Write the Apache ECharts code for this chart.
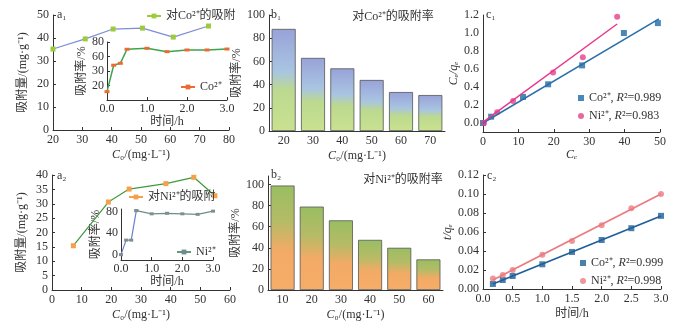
<!DOCTYPE html>
<html><head><meta charset="utf-8">
<script src="https://cdn.jsdelivr.net/npm/echarts@6/dist/echarts.min.js"></script>
<style>html,body{margin:0;padding:0;background:#fff}#c{width:682px;height:327px}</style>
</head><body><div id="c"></div>
<script>
// ---------- data ----------
const a1Conc = [20, 31, 40.5, 50.5, 61, 73];
const a1Qe = [35.2, 39.6, 43.9, 44.3, 40.4, 45.2];
const insetTime = [0, 0.167, 0.333, 0.5, 1, 1.5, 2, 2.5, 3];
const a1InsetRate = [11.5, 48, 50.6, 70, 71.3, 66.7, 69, 69, 70.3];
const a1InsetYLabels = {0: '', 20: '20', 40: '30', 60: '60', 80: '80'};

const a2Conc = [7.2, 19, 26, 38.4, 47.8, 54.9];
const a2Qe = [15.4, 30.6, 35.1, 37.0, 39.2, 32.8];
const a2InsetRate = [0, 27, 27, 82, 76, 77, 76, 75, 81];

const b1Cats = ['20', '30', '40', '50', '60', '70'];
const b1Rate = [88, 63, 54, 44, 33.6, 31];
const b2Cats = ['10', '20', '30', '40', '50', '60'];
const b2Rate = [99, 79, 66, 47.5, 40, 29];

const c1CoCe = [0, 2.3, 11.3, 18.4, 28, 39.8, 49.4];
const c1CoCq = [0, 0.07, 0.29, 0.43, 0.64, 1.0, 1.11];
const c1NiCe = [0.3, 4, 8.5, 19.8, 28.2, 37.9];
const c1NiCq = [0, 0.12, 0.245, 0.56, 0.73, 1.18];
const c1CoFit = [[0, 0], [49.7, 1.156]];
const c1NiFit = [[0, 0.01], [37.9, 1.1]];

const c2Time = [0.167, 0.333, 0.5, 1, 1.5, 2, 2.5, 3];
const c2Co = [0.0053, 0.0095, 0.0137, 0.026, 0.039, 0.0516, 0.064, 0.077];
const c2Ni = [0.011, 0.0147, 0.020, 0.036, 0.0505, 0.067, 0.085, 0.0999];
const c2CoFit = [[0.167, 0.0053], [3, 0.0768]];
const c2NiFit = [[0.167, 0.0095], [3, 0.1]];

// ---------- helpers ----------
const F = '"Liberation Serif","Times New Roman","Noto Sans CJK SC",serif';
const TXT = '#333';
const zip = (a, b) => a.map((v, i) => [v, b[i]]);
const richT = {
  n: {fontFamily: F, fontSize: 12, color: TXT},
  i: {fontFamily: F, fontSize: 12, color: TXT, fontStyle: 'italic'}
};
function axis(type, grid, o) {
  const base = {
    type: type, gridIndex: grid,
    axisLine: {show: true, onZero: false, lineStyle: {color: '#333', width: 1}},
    axisTick: {show: true, inside: true, length: 3, lineStyle: {color: '#333'}},
    axisLabel: {color: TXT, fontFamily: F, fontSize: 12, margin: 4},
    splitLine: {show: false},
    nameLocation: 'middle',
    nameTextStyle: {color: TXT, fontFamily: F, fontSize: 12, rich: richT}
  };
  for (const k in o) {
    if (typeof o[k] === 'object' && !Array.isArray(o[k]) && base[k]) base[k] = Object.assign({}, base[k], o[k]);
    else base[k] = o[k];
  }
  return base;
}
const g = (l, t, w, h) => ({left: l, top: t, width: w, height: h, outerBoundsMode: 'none', containLabel: false});

const legendText = {
  a1main: '对Co²⁺的吸附', a1inset: 'Co²⁺', a2main: '对Ni²⁺的吸附', a2inset: 'Ni²⁺',
  c1Co: '{n|Co²⁺, }{i|R}{n|²=0.989}', c1Ni: '{n|Ni²⁺, }{i|R}{n|²=0.983}',
  c2Co: '{n|Co²⁺, }{i|R}{n|²=0.999}', c2Ni: '{n|Ni²⁺, }{i|R}{n|²=0.998}'
};
function legend(items, left, top, extra) {
  return Object.assign({
    data: items, left: left, top: top, orient: 'vertical', selectedMode: false,
    itemWidth: 14, itemHeight: 6, itemGap: 5, padding: 0,
    formatter: n => legendText[n],
    textStyle: {fontFamily: F, fontSize: 12, color: TXT, rich: richT}
  }, extra || {});
}
const barGrad1 = new echarts.graphic.LinearGradient(0, 0, 0, 1, [
  {offset: 0, color: '#98a2d8'}, {offset: 0.42, color: '#a9c5e2'},
  {offset: 0.6, color: '#bcd98f'}, {offset: 1, color: '#c9e290'}]);
const barGrad2 = new echarts.graphic.LinearGradient(0, 0, 0, 1, [
  {offset: 0, color: '#99be62'}, {offset: 0.35, color: '#b6bb66'},
  {offset: 0.62, color: '#f2aa66'}, {offset: 1, color: '#f6ad68'}]);

const option = {
  backgroundColor: '#fff',
  animation: false,
  grid: [
    g(53, 15, 176, 115),    // 0 a1
    g(107, 42, 120, 58),    // 1 a1 inset
    g(52, 175, 178, 115),   // 2 a2
    g(121, 209, 92, 51),    // 3 a2 inset
    g(269, 15, 176, 116),   // 4 b1
    g(268, 176, 175, 114),  // 5 b2
    g(483, 15, 177, 117),   // 6 c1
    g(483, 175, 178, 114)   // 7 c2
  ],
  xAxis: [
    axis('value', 0, {min: 20, max: 80, interval: 10, name: '{i|C}{n|₀/(mg·L⁻¹)}', nameGap: 19}),
    axis('value', 1, {min: 0, max: 3, interval: 1, name: '时间/h', nameGap: 13,
      axisLabel: {formatter: v => v.toFixed(1), margin: 3}}),
    axis('value', 2, {min: 0, max: 60, interval: 10, name: '{i|C}{n|₀/(mg·L⁻¹)}', nameGap: 19}),
    axis('value', 3, {min: 0, max: 3, interval: 1, name: '时间/h', nameGap: 13,
      axisLabel: {formatter: v => v.toFixed(1), margin: 3}}),
    axis('category', 4, {data: b1Cats, name: '{i|C}{n|₀/(mg·L⁻¹)}', nameGap: 19, axisTick: {show: false}}),
    axis('category', 5, {data: b2Cats, name: '{i|C}{n|₀/(mg·L⁻¹)}', nameGap: 19, axisTick: {show: false}}),
    axis('value', 6, {min: 0, max: 50, interval: 10, name: '{i|C}{i|ₑ}', nameGap: 17}),
    axis('value', 7, {min: 0, max: 3, interval: 0.5, name: '时间/h', nameGap: 19,
      axisLabel: {formatter: v => v.toFixed(1)}})
  ],
  yAxis: [
    axis('value', 0, {min: 0, max: 50, interval: 10, name: '吸附量/(mg·g⁻¹)', nameGap: 24}),
    axis('value', 1, {min: 0, max: 80, interval: 20, name: '吸附率/%', nameGap: 14,
      axisLabel: {formatter: v => a1InsetYLabels[v] !== undefined ? a1InsetYLabels[v] : '', margin: 3}}),
    axis('value', 2, {min: 0, max: 40, interval: 5, name: '吸附量/(mg·g⁻¹)', nameGap: 24}),
    axis('value', 3, {min: -10, max: 85, interval: 10, name: '吸附率/%', nameGap: 14, axisTick: {show: false},
      axisLabel: {formatter: v => (Math.round(v) % 40 === 0 && v >= 0 && v <= 80) ? String(Math.round(v)) : '', margin: 3}}),
    axis('value', 4, {min: 0, max: 100, interval: 20, name: '吸附率/%', nameGap: 22}),
    axis('value', 5, {min: 0, max: 108, interval: 20, name: '吸附率/%', nameGap: 22,
      axisLabel: {showMaxLabel: false}}),
    axis('value', 6, {min: -0.1, max: 1.2, interval: 0.1, name: '{i|C}{i|ₑ}{i|/q}{i|ₑ}', nameGap: 16, axisTick: {show: false},
      axisLabel: {formatter: v => { const k = Math.round(v * 10); return (k >= 0 && k % 2 === 0) ? (k / 10).toFixed(1) : ''; }}}),
    axis('value', 7, {min: 0, max: 0.12, interval: 0.02, name: '{i|t/q}{i|ₑ}', nameGap: 20,
      axisLabel: {formatter: v => v.toFixed(2)}})
  ],
  legend: [
    legend([{name: 'a1main', itemStyle: {color: '#9ccc3c'}, lineStyle: {color: '#9ccc3c'}}], 146, 10),
    legend([{name: 'a1inset', itemStyle: {color: '#ee6a35'}, lineStyle: {color: '#ee6a35'}}], 180, 81),
    legend([{name: 'a2main', itemStyle: {color: '#f5a04a'}, lineStyle: {color: '#f5a04a'}}], 128, 191),
    legend([{name: 'a2inset', itemStyle: {color: '#6f8c8c'}, lineStyle: {color: '#5f9a7a'}}], 176, 246),
    legend([{name: 'c1Co', icon: 'rect'}, {name: 'c1Ni', icon: 'circle'}], 578, 92,
      {itemWidth: 6, itemHeight: 6, itemGap: 6}),
    legend([{name: 'c2Co', icon: 'rect'}, {name: 'c2Ni', icon: 'circle'}], 580, 257,
      {itemWidth: 6, itemHeight: 6, itemGap: 6})
  ],
  series: [
    {name: 'a1main', type: 'line', xAxisIndex: 0, yAxisIndex: 0, data: zip(a1Conc, a1Qe),
      symbol: 'rect', symbolSize: 5, lineStyle: {color: '#7b8ed6', width: 1.2}, itemStyle: {color: '#9ccc3c'}},
    {name: 'a1inset', type: 'line', xAxisIndex: 1, yAxisIndex: 1, data: zip(insetTime, a1InsetRate),
      symbol: 'rect', symbolSize: [5, 3], lineStyle: {color: '#3ea34a', width: 1.5}, itemStyle: {color: '#ee6a35'}},
    {name: 'a2main', type: 'line', xAxisIndex: 2, yAxisIndex: 2, data: zip(a2Conc, a2Qe),
      symbol: 'rect', symbolSize: 5, lineStyle: {color: '#3f9a3a', width: 1.2}, itemStyle: {color: '#f5a04a'}},
    {name: 'a2insetBlue', type: 'line', xAxisIndex: 3, yAxisIndex: 3, data: zip(insetTime, a2InsetRate).slice(0, 4),
      symbol: 'rect', symbolSize: [4, 3], lineStyle: {color: '#6d7fd0', width: 1.2}, itemStyle: {color: '#7f8f8f'}},
    {name: 'a2inset', type: 'line', xAxisIndex: 3, yAxisIndex: 3, data: zip(insetTime, a2InsetRate).slice(3),
      symbol: 'rect', symbolSize: [4, 3], lineStyle: {color: '#6f8c8c', width: 1.2}, itemStyle: {color: '#7f8f8f'}},
    {name: 'b1', type: 'bar', xAxisIndex: 4, yAxisIndex: 4, data: b1Rate, barWidth: 24,
      itemStyle: {color: barGrad1, borderColor: '#555', borderWidth: 0.8}},
    {name: 'b2', type: 'bar', xAxisIndex: 5, yAxisIndex: 5, data: b2Rate, barWidth: 24,
      itemStyle: {color: barGrad2, borderColor: '#555', borderWidth: 0.8}},
    {name: 'c1CoFit', type: 'line', xAxisIndex: 6, yAxisIndex: 6, data: c1CoFit, symbol: 'none',
      lineStyle: {color: '#2a6fa8', width: 1.5}},
    {name: 'c1NiFit', type: 'line', xAxisIndex: 6, yAxisIndex: 6, data: c1NiFit, symbol: 'none',
      lineStyle: {color: '#e8388a', width: 1.5}},
    {name: 'c1Co', type: 'scatter', xAxisIndex: 6, yAxisIndex: 6, data: zip(c1CoCe, c1CoCq),
      symbol: 'rect', symbolSize: 6, itemStyle: {color: '#1f6aa5'}},
    {name: 'c1Ni', type: 'scatter', xAxisIndex: 6, yAxisIndex: 6, data: zip(c1NiCe, c1NiCq),
      symbol: 'circle', symbolSize: 6, itemStyle: {color: '#e5408c'}},
    {name: 'c2CoFit', type: 'line', xAxisIndex: 7, yAxisIndex: 7, data: c2CoFit, symbol: 'none',
      lineStyle: {color: '#1f5f9a', width: 1.8}},
    {name: 'c2NiFit', type: 'line', xAxisIndex: 7, yAxisIndex: 7, data: c2NiFit, symbol: 'none',
      lineStyle: {color: '#ec7a80', width: 1.8}},
    {name: 'c2Co', type: 'scatter', xAxisIndex: 7, yAxisIndex: 7, data: zip(c2Time, c2Co),
      symbol: 'rect', symbolSize: 6, itemStyle: {color: '#1f5f9a'}},
    {name: 'c2Ni', type: 'scatter', xAxisIndex: 7, yAxisIndex: 7, data: zip(c2Time, c2Ni),
      symbol: 'circle', symbolSize: 6, itemStyle: {color: '#ec7a80'}}
  ],
  graphic: [
    {type: 'text', x: 57, y: 9, style: {text: 'a₁', font: '12px ' + F, fill: TXT}},
    {type: 'text', x: 57, y: 170, style: {text: 'a₂', font: '12px ' + F, fill: TXT}},
    {type: 'text', x: 271, y: 9, style: {text: 'b₁', font: '12px ' + F, fill: TXT}},
    {type: 'text', x: 271, y: 169, style: {text: 'b₂', font: '12px ' + F, fill: TXT}},
    {type: 'text', x: 486, y: 9, style: {text: 'c₁', font: '12px ' + F, fill: TXT}},
    {type: 'text', x: 487, y: 170, style: {text: 'c₂', font: '12px ' + F, fill: TXT}},
    {type: 'text', x: 393, y: 17, style: {text: '对Co²⁺的吸附率', font: '12px ' + F, fill: TXT, align: 'center', verticalAlign: 'middle'}},
    {type: 'text', x: 403, y: 180, style: {text: '对Ni²⁺的吸附率', font: '12px ' + F, fill: TXT, align: 'center', verticalAlign: 'middle'}}
  ]
};
const chart = echarts.init(document.getElementById('c'), null, {renderer: 'canvas'});
chart.setOption(option);
</script></body></html>
